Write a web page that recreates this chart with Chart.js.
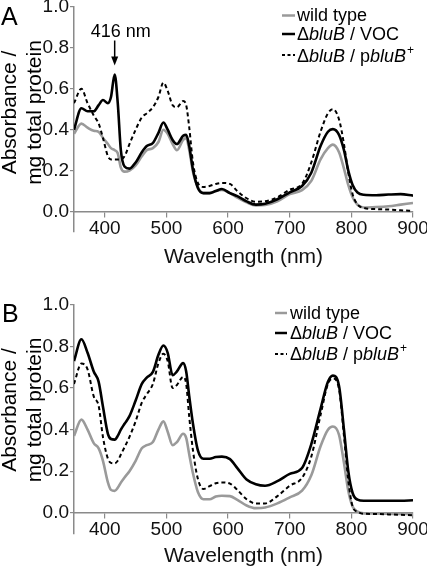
<!DOCTYPE html>
<html><head><meta charset="utf-8">
<script src="https://cdn.jsdelivr.net/npm/chart.js@4.4.1/dist/chart.umd.min.js"></script>
<style>
html,body{margin:0;padding:0;background:#fff;overflow:hidden;}
#wrapA{position:absolute;left:0;top:0;width:427px;height:280px;}
#wrapB{position:absolute;left:0;top:280px;width:427px;height:287px;}
</style></head><body>
<div id="wrapA"><canvas id="cA"></canvas></div>
<div id="wrapB"><canvas id="cB"></canvas></div>
<script>
// ---- data ----
const wavelengths = [350,362,372,382,390,397,405,410,416,421,426,432,440,450,460,468,478,487,495,502,510,517,527,532,537,543,551,560,570,580,590,603,615,630,645,660,680,700,720,735,750,762,770,780,788,795,802,810,820,840,860,880,900];
const xTicks = [400,500,600,700,800,900];
const yTicks = [0,0.2,0.4,0.6,0.8,1.0];
const seriesNames = ['wild type','ΔbluB / VOC','ΔbluB / pbluB+'];
const xTitle = 'Wavelength (nm)';
const yTitleLines = ['Absorbance /','mg total protein'];
const panelLetters = ['A','B'];
const annotationWavelength = 416;
const annotationLabel = '416 nm';

// Panel A
const aWildType = [0.38,0.43,0.41,0.395,0.39,0.36,0.33,0.31,0.30,0.285,0.215,0.195,0.20,0.225,0.27,0.30,0.31,0.34,0.40,0.38,0.33,0.30,0.35,0.36,0.30,0.195,0.12,0.09,0.09,0.10,0.105,0.09,0.068,0.045,0.03,0.032,0.05,0.085,0.105,0.15,0.255,0.31,0.327,0.29,0.21,0.13,0.07,0.033,0.02,0.022,0.026,0.034,0.042];
const aVOC = [0.40,0.505,0.49,0.49,0.52,0.545,0.53,0.56,0.67,0.53,0.30,0.22,0.21,0.24,0.29,0.32,0.335,0.385,0.435,0.40,0.35,0.33,0.37,0.375,0.32,0.205,0.115,0.09,0.09,0.10,0.11,0.09,0.075,0.05,0.034,0.038,0.06,0.094,0.125,0.19,0.32,0.39,0.403,0.375,0.30,0.20,0.13,0.093,0.082,0.08,0.083,0.085,0.078];
const aComp = [0.53,0.60,0.53,0.47,0.43,0.36,0.27,0.255,0.255,0.255,0.255,0.27,0.33,0.40,0.46,0.48,0.51,0.56,0.63,0.59,0.52,0.51,0.54,0.52,0.41,0.24,0.14,0.12,0.125,0.135,0.14,0.135,0.10,0.065,0.048,0.05,0.07,0.107,0.135,0.24,0.39,0.48,0.50,0.45,0.33,0.19,0.085,0.035,0.018,0.012,0.01,0.006,0.003];

// Panel B
const bWildType = [0.37,0.448,0.40,0.335,0.31,0.25,0.146,0.11,0.105,0.12,0.145,0.17,0.20,0.25,0.31,0.325,0.34,0.40,0.44,0.39,0.325,0.34,0.38,0.36,0.28,0.19,0.10,0.065,0.065,0.078,0.082,0.08,0.062,0.035,0.022,0.025,0.045,0.074,0.106,0.18,0.32,0.40,0.415,0.375,0.24,0.106,0.03,0.005,-0.003,-0.004,-0.005,-0.006,-0.006];
const bVOC = [0.73,0.835,0.77,0.68,0.63,0.51,0.38,0.355,0.352,0.37,0.40,0.428,0.465,0.54,0.62,0.65,0.678,0.76,0.805,0.77,0.662,0.68,0.72,0.68,0.56,0.428,0.30,0.26,0.26,0.268,0.27,0.258,0.215,0.16,0.137,0.13,0.152,0.187,0.215,0.33,0.50,0.63,0.66,0.61,0.40,0.20,0.095,0.063,0.058,0.058,0.058,0.058,0.06];
const bComp = [0.62,0.718,0.69,0.56,0.515,0.364,0.26,0.24,0.238,0.25,0.28,0.315,0.365,0.44,0.53,0.57,0.62,0.72,0.765,0.73,0.60,0.615,0.654,0.62,0.46,0.30,0.163,0.114,0.128,0.142,0.146,0.14,0.11,0.065,0.045,0.045,0.08,0.13,0.168,0.27,0.47,0.62,0.646,0.595,0.37,0.155,0.03,0.005,-0.005,-0.006,-0.008,-0.01,-0.012];

// ---- styling ----
const FONT = '"Liberation Sans", Arial, Helvetica, sans-serif';
const AXIS = '#8a8a8a';
const GRAY = '#9a9a9a';

function pts(vals){ return wavelengths.map((w,i)=>({x:w,y:vals[i]})); }

function drawRich(ctx, x, y, segs, size){
  let cx = x;
  for (const s of segs){
    if (s.sup){
      ctx.font = Math.round(size*0.65)+'px '+FONT;
      ctx.fillText(s.t, cx+1, y - size*0.42);
      cx += ctx.measureText(s.t).width+1;
    } else {
      ctx.font = (s.i?'italic ':'')+size+'px '+FONT;
      ctx.fillText(s.t, cx, y);
      cx += ctx.measureText(s.t).width;
    }
  }
}

const legendSegs = [
  [{t:'wild type'}],
  [{t:'Δ'},{t:'bluB',i:true},{t:' / VOC'}],
  [{t:'Δ'},{t:'bluB',i:true},{t:' / p'},{t:'bluB',i:true},{t:'+',sup:true}]
];

const annot = {
  id:'annot',
  afterDraw(chart, args, o){
    const ctx = chart.ctx;
    ctx.save();
    ctx.fillStyle = '#000';
    ctx.textAlign = 'left';
    ctx.textBaseline = 'alphabetic';
    // panel letter
    ctx.font = '25px '+FONT;
    ctx.fillText(o.letter, o.letterX, o.letterY);
    // y title (two rotated lines)
    ctx.font = '21px '+FONT;
    ctx.textAlign = 'center';
    for (let k=0;k<yTitleLines.length;k++){
      ctx.save();
      ctx.translate(o.yTitleX[k], o.yTitleCY);
      ctx.rotate(-Math.PI/2);
      ctx.fillText(yTitleLines[k], 0, 0);
      ctx.restore();
    }
    // legend
    ctx.textAlign = 'left';
    const styles = [
      {c:GRAY,w:2.5,d:[]},{c:'#000',w:2.5,d:[]},{c:'#000',w:1.8,d:[3,2.5]}
    ];
    for (let k=0;k<3;k++){
      const st = styles[k];
      ctx.beginPath();
      ctx.strokeStyle = st.c; ctx.lineWidth = st.w; ctx.setLineDash(st.d);
      ctx.moveTo(o.legX0, o.legLineY[k]); ctx.lineTo(o.legX1, o.legLineY[k]);
      ctx.stroke();
      ctx.setLineDash([]);
      ctx.fillStyle = '#000';
      drawRich(ctx, o.legTextX, o.legBase[k], legendSegs[k], 18);
    }
    // arrow annotation
    if (o.arrow){
      const xs = chart.scales.x, ys = chart.scales.y;
      const idx = wavelengths.indexOf(annotationWavelength);
      const ax = xs.getPixelForValue(annotationWavelength);
      const tipY = ys.getPixelForValue(aVOC[idx]) - 9;
      ctx.font = '18px '+FONT;
      ctx.textAlign = 'center';
      ctx.fillText(annotationLabel, ax+6, tipY-29);
      ctx.beginPath();
      ctx.strokeStyle = '#000'; ctx.lineWidth = 1.5;
      ctx.moveTo(ax, tipY-25); ctx.lineTo(ax, tipY-6);
      ctx.stroke();
      ctx.beginPath();
      ctx.fillStyle = '#000';
      ctx.moveTo(ax, tipY); ctx.lineTo(ax-3.5, tipY-9); ctx.lineTo(ax+3.5, tipY-9); ctx.closePath();
      ctx.fill();
    }
    ctx.restore();
  }
};

function makeChart(id, wt, voc, comp, cfg){
  return new Chart(document.getElementById(id), {
    type:'line',
    data:{datasets:[
      {label:seriesNames[0], data:pts(wt), borderColor:GRAY, borderWidth:2.6, pointRadius:0, cubicInterpolationMode:'monotone', order:2},
      {label:seriesNames[1], data:pts(voc), borderColor:'#000', borderWidth:2.6, pointRadius:0, cubicInterpolationMode:'monotone', order:0},
      {label:seriesNames[2], data:pts(comp), borderColor:'#000', borderWidth:2, borderDash:[4,3], pointRadius:0, cubicInterpolationMode:'monotone', order:1}
    ]},
    options:{
      animation:false, responsive:true, maintainAspectRatio:false, devicePixelRatio:1,
      layout:{padding:{top:cfg.padTop, bottom:cfg.padBottom, left:0, right:14}},
      plugins:{legend:{display:false}, tooltip:{enabled:false}, annot:cfg.annot},
      scales:{
        x:{type:'linear', min:350, max:900, position:{y:0},
           afterBuildTicks(s){ s.ticks = xTicks.map(v=>({value:v})); },
           afterFit(s){ s.paddingLeft=0; s.paddingRight=0; },
           grid:{drawOnChartArea:false, drawTicks:true, tickLength:5, color:AXIS, lineWidth:1.2},
           border:{display:true, color:AXIS, width:1.5},
           ticks:{color:'#111', font:{family:FONT, size:19}, padding:1, maxRotation:0, autoSkip:false},
           title:{display:true, text:xTitle, color:'#111', font:{family:FONT, size:21}, padding:{top:cfg.titlePad, bottom:0}}
        },
        y:{type:'linear', min:-0.1, max:1.0,
           afterBuildTicks(s){ s.ticks = yTicks.map(v=>({value:v})); },
           afterFit(s){ s.width = 74; s.paddingTop=0; s.paddingBottom=0; },
           grid:{drawOnChartArea:false, drawTicks:true, tickLength:4, color:AXIS, lineWidth:1.2},
           border:{display:true, color:AXIS, width:1.5},
           ticks:{color:'#111', font:{family:FONT, size:19}, padding:1, callback:v=>Number(v).toFixed(1)}
        }
      }
    },
    plugins:[annot]
  });
}

makeChart('cA', aWildType, aVOC, aComp, {
  padTop:7, padBottom:48, titlePad:3.5,
  annot:{letter:panelLetters[0], letterX:1, letterY:25, yTitleX:[16,41], yTitleCY:112.5,
    legX0:282, legX1:295, legTextX:297, legLineY:[15.5,34,55], legBase:[20.5,40,62], arrow:true}
});
makeChart('cB', bWildType, bVOC, bComp, {
  padTop:25, padBottom:33.5, titlePad:1,
  annot:{letter:panelLetters[1], letterX:2, letterY:42, yTitleX:[16,41], yTitleCY:130,
    legX0:275, legX1:287, legTextX:290, legLineY:[33,53,74], legBase:[39,59,80], arrow:false}
});
</script>
</body></html>
